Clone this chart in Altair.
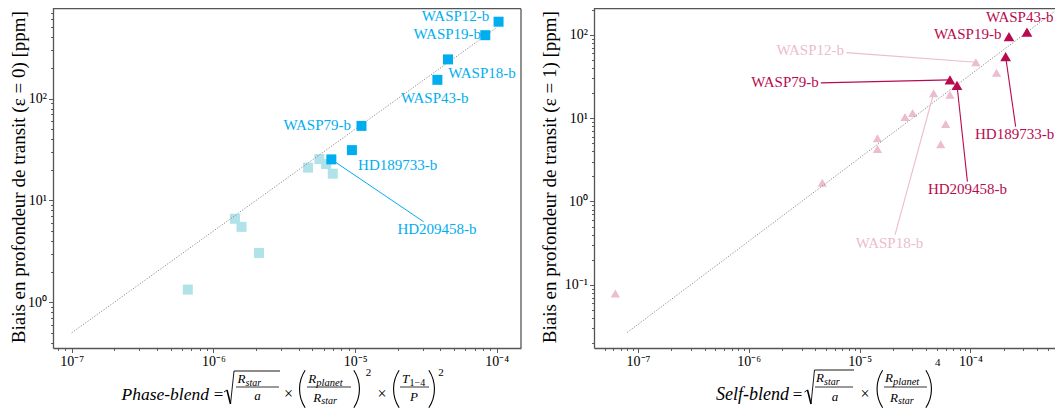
import math
import altair as alt
import pandas as pd

FONT = "Liberation Serif"
FRAME = "#555555"
L_DARK, L_LIGHT = "#00aeef", "#b0e2ea"
R_DARK, R_LIGHT = "#b80a50", "#ecbcd0"

# ---------------- left panel : phase-blend vs transit-depth bias (eps = 0) ----------------
L_HL_NAMES = ["WASP12-b", "WASP19-b", "WASP18-b", "WASP43-b", "WASP79-b", "HD189733-b", "HD209458-b"]
L_HL_X = [1.03e-4, 8.3e-5, 4.53e-5, 3.81e-5, 1.11e-5, 9.5e-6, 6.8e-6]
L_HL_Y = [570, 420, 243, 153, 54, 31.2, 25.3]
L_BG_X = [6.6e-7, 1.42e-6, 1.58e-6, 2.1e-6, 4.66e-6, 5.6e-6, 6.25e-6, 6.96e-6]
L_BG_Y = [1.33, 6.6, 5.5, 3.05, 21.0, 25.5, 22.8, 18.3]
L_FIT_X = [1e-7, 1e-4]
L_FIT_Y = [0.5, 500]
L_LAB_X = [8.87e-5, 7.75e-5, 4.55e-5, 2.11e-5, 9.37e-6, 1.05e-5, 1.99e-5]
L_LAB_Y = [644, 436, 179, 101, 55.4, 22.3, 5.28]
L_LAB_ALIGN = ["right", "right", "left", "left", "right", "left", "left"]
L_CON_NAMES = ["HD209458-b"]
L_CON_X = [3.05e-5]
L_CON_Y = [6.17]
L_XDOM = [7.38e-8, 1.483e-4]
L_YDOM = [0.355, 826]
L_XTICKS = [1e-7, 1e-6, 1e-5, 1e-4]
L_XLABELS = ["10⁻⁷", "10⁻⁶", "10⁻⁵", "10⁻⁴"]
L_YTICKS = [1.0, 10.0, 100.0]
L_YLABELS = ["10⁰", "10¹", "10²"]

# ---------------- right panel : self-blend vs transit-depth bias (eps = 1) ----------------
R_HL_NAMES = ["WASP43-b", "WASP19-b", "HD189733-b", "WASP79-b", "HD209458-b"]
R_HL_X = [3.24e-4, 2.23e-4, 2.08e-4, 6.54e-5, 7.57e-5]
R_HL_Y = [108, 95.4, 54.8, 28.8, 24.8]
R_BG_NAMES = ["WASP12-b", "WASP18-b", "", "", "", "", "", "", "", "", "", ""]
R_BG_X = [1.12e-4, 4.66e-5, 1.72e-4, 6.54e-5, 5.98e-5, 5.4e-5, 2.57e-5, 3.01e-5, 1.45e-5, 1.45e-5, 4.61e-6, 6.25e-8]
R_BG_Y = [47.0, 19.9, 35.2, 19.1, 8.5, 4.85, 10.3, 11.5, 5.73, 4.26, 1.68, 0.0786]
R_FIT_X = [8e-8, 6.8e-4]
R_FIT_Y = [0.0267, 226]
R_LAB_NAMES = ["WASP43-b", "WASP19-b", "WASP12-b", "WASP79-b", "HD189733-b", "HD209458-b", "WASP18-b"]
R_LAB_X = [1.38e-4, 1.905e-4, 7.23e-6, 4.28e-6, 1.10e-4, 4.14e-5, 9.22e-6]
R_LAB_Y = [166, 102, 66.1, 27.0, 6.41, 1.41, 0.316]
R_LAB_ALIGN = ["left", "right", "right", "right", "left", "left", "left"]
R_LAB_HL = [True, True, False, True, True, True, False]
R_CON_NAMES = ["WASP12-b", "WASP79-b", "HD189733-b", "HD209458-b", "WASP18-b"]
R_CON_X = [7.6e-6, 4.46e-6, 2.56e-4, 9.4e-5, 2.09e-5]
R_CON_Y = [61.2, 26.5, 7.91, 1.73, 0.40]
R_XDOM = [4.01e-8, 6.85e-4]
R_YDOM = [0.01738, 226.5]
R_XTICKS = [1e-7, 1e-6, 1e-5, 1e-4]
R_XLABELS = ["10⁻⁷", "10⁻⁶", "10⁻⁵", "10⁻⁴"]
R_YTICKS = [0.1, 1.0, 10.0, 100.0]
R_YLABELS = ["10⁻¹", "10⁰", "10¹", "10²"]

# canvas (page offset 8 px) and the two plot rectangles inside it;
# the right panel runs past the canvas edge, as in the reference
CW, CH = 1047, 401
LX0, LX1 = 45, 513
RX0, RX1 = 586, 1055
PY0, PY1 = -2.7, 340
FTOP = 0.7
one = pd.DataFrame({"k": [0]})


def make_axis(ticks, labels, dom, orient, offset, **kw):
    lo, hi = dom
    vals = []
    for e in range(math.floor(math.log10(lo)), math.floor(math.log10(hi)) + 1):
        for k in range(1, 10):
            v = float(f"{k}e{e}")
            if lo <= v <= hi:
                vals.append(v)
    expr = "''"
    for t, lab in zip(ticks, labels):
        expr = f"(datum.value == {t!r} ? '{lab}' : {expr})"
    test = " || ".join(f"datum.value == {t!r}" for t in ticks)
    return alt.Axis(values=vals, labelExpr=expr, orient=orient, offset=offset,
                    tickSize={"condition": {"test": test, "value": 4.5}, "value": 2.5},
                    labelFontSize={"condition": {"test": test, "value": 14}, "value": 0},
                    grid=False, domain=True, domainColor=FRAME, domainWidth=1.3,
                    tickColor="#333333", tickWidth=0.8, labelFont=FONT,
                    labelColor="black", labelPadding=2, labelOverlap=False, labelFlush=False,
                    titleFont=FONT, titleFontSize=19, titleFontWeight="normal", titleColor="black",
                    **kw)


def P(x, y):
    """reference page pixel -> canvas pixel"""
    return x - 8, y - 8


def txt(x, y, s, size, italic=False, align="left"):
    cx, cy = P(x, y)
    return alt.Chart(one).mark_text(text=s, font=FONT, fontSize=size,
                                    fontStyle="italic" if italic else "normal",
                                    align=align, baseline="alphabetic", color="black").encode(
        x=alt.value(cx), y=alt.value(cy))


def seg(x1, y1, x2, y2, w=0.9, color="black"):
    a, b = P(x1, y1)
    c, d = P(x2, y2)
    return alt.Chart(one).mark_rule(color=color, strokeWidth=w).encode(
        x=alt.value(a), y=alt.value(b), x2=alt.value(c), y2=alt.value(d))


def paren(xl, ytop, ybot, left=True):
    h = (ybot - ytop) / 2.0
    a = math.radians(33.4)
    R = h / math.sin(a)
    cy = (ytop + ybot) / 2.0
    if left:
        cx, t1, t2 = xl + R, math.pi * 1.5 - a, math.pi * 1.5 + a
    else:
        cx, t1, t2 = xl - R, math.pi * 0.5 - a, math.pi * 0.5 + a
    px, py = P(cx, cy)
    return alt.Chart(one).mark_arc(theta=t1, theta2=t2, radius=R, radius2=R - 1.1,
                                   color="black").encode(x=alt.value(px), y=alt.value(py))


def radical(x0, ytop, ybot, xend):
    return [seg(x0, ybot - 12, x0 + 3, ybot - 14, 0.9), seg(x0 + 3, ybot - 14, x0 + 6.5, ybot, 1.5),
            seg(x0 + 6.5, ybot, x0 + 10, ytop, 0.9), seg(x0 + 10, ytop, xend, ytop, 0.9)]


def left_formula():
    L = [txt(209, 400, "Phase-blend", 17.5, True, "right"),
         txt(218.5, 400, "=", 17, False, "center")]
    L += radical(224, 371, 404, 280)
    L += [txt(237.5, 383, "R", 13, True), txt(245.5, 386, "star", 10, True),
          seg(236, 387, 279, 387, 0.8), txt(257.5, 400, "a", 13, True, "center"),
          txt(288.5, 399, "×", 16, False, "center"),
          paren(299, 370, 408, True),
          txt(308.3, 383, "R", 13, True), txt(316.3, 386, "planet", 10.5, True),
          seg(307, 387, 351, 387, 0.8),
          txt(313.3, 401.5, "R", 13, True), txt(321.3, 404, "star", 10, True),
          paren(360, 370, 408, False), txt(365.7, 376, "2", 11),
          txt(382, 399, "×", 16, False, "center"),
          paren(393, 370, 408, True),
          txt(402, 383, "T", 13, True), txt(409.5, 386, "1−4", 10),
          seg(400, 387, 429, 387, 0.8), txt(414, 401, "P", 13, True, "center"),
          paren(435, 370, 408, False), txt(438.3, 376, "2", 11)]
    return L


def right_formula():
    L = [txt(789, 400, "Self-blend", 18, True, "right"),
         txt(797.5, 400, "=", 17, False, "center")]
    L += radical(804.5, 370, 404, 854)
    L += [txt(816, 382, "R", 13, True), txt(824, 385, "star", 10, True),
          seg(815, 387, 853, 387, 0.8), txt(835, 400.5, "a", 13, True, "center"),
          txt(865, 399, "×", 16, False, "center"),
          paren(876.5, 370, 408, True),
          txt(885, 382, "R", 13, True), txt(893, 385, "planet", 10.5, True),
          seg(884, 387, 927, 387, 0.8),
          txt(890, 401.5, "R", 13, True), txt(898, 404, "star", 10, True),
          paren(932, 370, 408, False), txt(935, 366, "4", 11)]
    return L


def hrule(x0, x1, y):
    return alt.Chart(one).mark_rule(color=FRAME, strokeWidth=1.3).encode(
        x=alt.value(x0), x2=alt.value(x1), y=alt.value(y))


def vrule(x, y0, y1):
    return alt.Chart(one).mark_rule(color=FRAME, strokeWidth=1.3).encode(
        x=alt.value(x), y=alt.value(y0), y2=alt.value(y1))


# ---------------- left panel ----------------
lxs = alt.Scale(type="log", domain=L_XDOM, range=[LX0, LX1], nice=False)
lys = alt.Scale(type="log", domain=L_YDOM, range=[PY1, PY0], nice=False)
lx_axis = make_axis(L_XTICKS, L_XLABELS, L_XDOM, "bottom", -(CH - PY1), title=None)
ly_axis = make_axis(L_YTICKS, L_YLABELS, L_YDOM, "left", -LX0,
                    title="Biais en profondeur de transit (ε = 0) [ppm]",
                    titleX=-35, titleBaseline="middle")

l_hl = pd.DataFrame({"x": L_HL_X, "y": L_HL_Y, "name": L_HL_NAMES})
l_bg = pd.DataFrame({"x": L_BG_X, "y": L_BG_Y})
l_fit = pd.DataFrame({"x": L_FIT_X, "y": L_FIT_Y})
l_lab = pd.DataFrame({"x": L_LAB_X, "y": L_LAB_Y, "name": L_HL_NAMES, "align": L_LAB_ALIGN})
l_con = pd.DataFrame({"x": L_CON_X, "y": L_CON_Y, "name": L_CON_NAMES}).merge(
    l_hl.rename(columns={"x": "x2", "y": "y2"}), on="name")

left_layers = [
    alt.Chart(l_bg).mark_point(shape="square", filled=True, size=100, opacity=1, color=L_LIGHT).encode(
        x=alt.X("x:Q", scale=lxs, axis=lx_axis), y=alt.Y("y:Q", scale=lys, axis=ly_axis)),
    alt.Chart(l_fit).mark_line(color="#8c8c8c", strokeWidth=1, strokeDash=[1.2, 1.6]).encode(
        x=alt.X("x:Q", scale=lxs), y=alt.Y("y:Q", scale=lys)),
    alt.Chart(l_con).mark_rule(color=L_DARK, strokeWidth=1).encode(
        x=alt.X("x:Q", scale=lxs), y=alt.Y("y:Q", scale=lys), x2="x2:Q", y2="y2:Q"),
    alt.Chart(l_hl).mark_point(shape="square", filled=True, size=100, opacity=1, color=L_DARK).encode(
        x=alt.X("x:Q", scale=lxs), y=alt.Y("y:Q", scale=lys)),
]
for al in ["left", "right"]:
    left_layers.append(
        alt.Chart(l_lab).transform_filter(f"datum.align == '{al}'").mark_text(
            font=FONT, fontSize=15, align=al, baseline="middle", color=L_DARK).encode(
            x=alt.X("x:Q", scale=lxs), y=alt.Y("y:Q", scale=lys), text="name:N"))
left = alt.layer(*left_layers)

# ---------------- right panel ----------------
rxs = alt.Scale(type="log", domain=R_XDOM, range=[RX0, RX1], nice=False)
rys = alt.Scale(type="log", domain=R_YDOM, range=[PY1, PY0], nice=False)
rx_axis = make_axis(R_XTICKS, R_XLABELS, R_XDOM, "bottom", -(CH - PY1), title=None)
ry_axis = make_axis(R_YTICKS, R_YLABELS, R_YDOM, "left", -RX0,
                    title="Biais en profondeur de transit (ε = 1) [ppm]",
                    titleX=-45, titleBaseline="middle")

r_hl = pd.DataFrame({"x": R_HL_X, "y": R_HL_Y, "name": R_HL_NAMES})
r_bg = pd.DataFrame({"x": R_BG_X, "y": R_BG_Y, "name": R_BG_NAMES})
r_fit = pd.DataFrame({"x": R_FIT_X, "y": R_FIT_Y})
r_lab = pd.DataFrame({"x": R_LAB_X, "y": R_LAB_Y, "name": R_LAB_NAMES, "align": R_LAB_ALIGN, "hl": R_LAB_HL})
r_pts = pd.concat([r_hl, r_bg[r_bg["name"] != ""]])
r_con = pd.DataFrame({"x": R_CON_X, "y": R_CON_Y, "name": R_CON_NAMES}).merge(
    r_pts.rename(columns={"x": "x2", "y": "y2"}), on="name")
r_con["hl"] = r_con["name"].isin(R_HL_NAMES)

right_layers = [
    alt.Chart(r_bg).mark_point(shape="triangle-up", filled=True, size=85, opacity=1, color=R_LIGHT).encode(
        x=alt.X("x:Q", scale=rxs, axis=rx_axis), y=alt.Y("y:Q", scale=rys, axis=ry_axis)),
    alt.Chart(r_fit).mark_line(color="#8c8c8c", strokeWidth=1, strokeDash=[1.2, 1.6]).encode(
        x=alt.X("x:Q", scale=rxs), y=alt.Y("y:Q", scale=rys)),
]
for hl, col in [(False, R_LIGHT), (True, R_DARK)]:
    right_layers.append(
        alt.Chart(r_con).transform_filter(f"datum.hl == {str(hl).lower()}").mark_rule(
            color=col, strokeWidth=1.1).encode(
            x=alt.X("x:Q", scale=rxs), y=alt.Y("y:Q", scale=rys), x2="x2:Q", y2="y2:Q"))
right_layers.append(
    alt.Chart(r_hl).mark_point(shape="triangle-up", filled=True, size=115, opacity=1, color=R_DARK).encode(
        x=alt.X("x:Q", scale=rxs), y=alt.Y("y:Q", scale=rys)))
for hl, col in [(False, R_LIGHT), (True, R_DARK)]:
    for al in ["left", "right"]:
        right_layers.append(
            alt.Chart(r_lab).transform_filter(
                f"datum.align == '{al}' && datum.hl == {str(hl).lower()}").mark_text(
                font=FONT, fontSize=15, align=al, baseline="middle", color=col).encode(
                x=alt.X("x:Q", scale=rxs), y=alt.Y("y:Q", scale=rys), text="name:N"))
right = alt.layer(*right_layers)

# ---------------- decorations (frames + formulas), pixel placed ----------------
deco = [hrule(LX0, LX1, FTOP), vrule(LX1, FTOP, PY1), hrule(RX0, RX1, FTOP)]
deco += left_formula() + right_formula()

chart = alt.layer(left, right, *deco).resolve_scale(x="independent", y="independent").properties(
    width=CW, height=CH, autosize=alt.AutoSizeParams(type="none"),
    padding={"left": 0, "top": 0, "right": 0, "bottom": 0}
).configure_view(strokeWidth=0)

chart.save("out.html", embed_options={"renderer": "svg", "actions": False})
